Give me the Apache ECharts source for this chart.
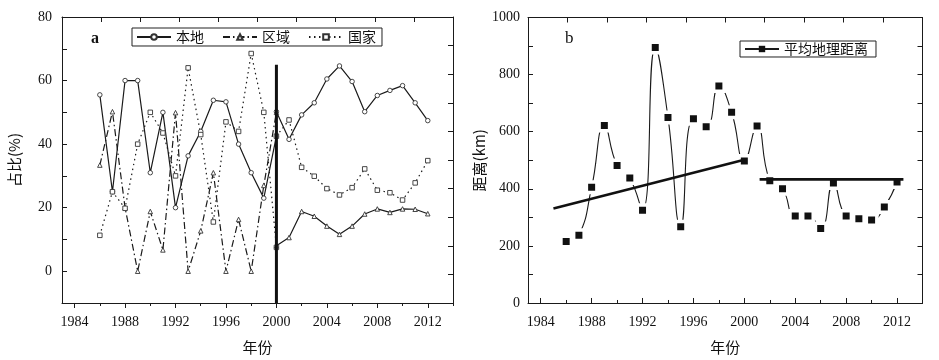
<!DOCTYPE html>
<html><head><meta charset="utf-8">
<script src="https://cdn.jsdelivr.net/npm/echarts@6/dist/echarts.min.js"></script>
<style>html,body{margin:0;padding:0;background:#fff}#c{width:939px;height:360px}</style>
</head><body><div id="c"></div>
<script>
// ---- data (panel a: shares %) ----
const yearsPre  = [1986,1987,1988,1989,1990,1991,1992,1993,1994,1995,1996,1997,1998,1999,2000];
const localPre  = [55.5,25,60,60,31,50,20,36.3,44,53.8,53.3,40,31,23,42.5];
const regionPre = [33.4,50.2,20,0,18.8,6.7,49.9,0,12.7,31,0,16.3,0,27,50];
const nationPre = [11.3,25,19.8,40,50,43.5,30,64,43,15.5,47,44,68.5,50,7.5];
const yearsPost  = [2000,2001,2002,2003,2004,2005,2006,2007,2008,2009,2010,2011,2012];
const localPost  = [50.2,41.5,49.2,53,60.5,64.6,59.7,50.2,55.3,56.9,58.4,53,47.4];
const regionPost = [8,10.6,18.8,17.3,14.2,11.6,14.2,18,19.6,18.5,19.6,19.5,18.1];
const nationPost = [42.5,47.6,32.7,29.9,26,24,26.3,32.2,25.5,24.7,22.4,27.8,34.8];
const dividerYear = 2000;
const dividerRange = [-10, 65];
// ---- data (panel b: average distance km) ----
const distYears = [1986,1987,1988,1989,1990,1991,1992,1993,1994,1995,1996,1997,1998,1999,2000,2001,2002,2003,2004,2005,2006,2007,2008,2009,2010,2011,2012];
const distVals  = [215,237,405,622,482,438,325,895,650,267,645,617,760,668,497,620,428,400,305,305,261,420,305,295,291,336,424];
const trendPreYears  = [1985,2000];
const trendPreVals   = [331,502];
const trendPostYears = [2001.2,2012.5];
const trendPostVals  = [433,433];
// ---- tick labels ----
const xLabelYears = [1984,1988,1992,1996,2000,2004,2008,2012];
const xTickYears  = [1984,1986,1988,1990,1992,1994,1996,1998,2000,2002,2004,2006,2008,2010,2012,2014];
const shareLabels = [0,20,40,60,80];
const distLabels  = [0,200,400,600,800,1000];

const pairs = (xs, ys) => xs.map((x, i) => [x, ys[i]]);
const INK = '#1a1a1a';
const SERIF = 'Liberation Serif';
const CJK = 'Noto Sans CJK SC';

const grids = [
  {left: 62, top: 17, width: 391, height: 291},
  {left: 528, top: 17.5, width: 394.5, height: 291}
];

function bottomAxis(grid, inside) {
  return [{
    gridIndex: grid, type: 'value', position: 'bottom', min: 1983, max: 2014,
    axisLine: {show: true, onZero: false, lineStyle: {color: INK, width: 1}},
    axisTick: {show: true, inside: inside, length: 5, customValues: xLabelYears, lineStyle: {color: INK}},
    axisLabel: {show: true, customValues: xLabelYears, margin: 12, color: '#111', fontFamily: SERIF, fontSize: 14,
      formatter: v => String(v)},
    splitLine: {show: false},
    name: '年份', nameLocation: 'middle', nameGap: 37,
    nameTextStyle: {fontFamily: CJK, fontSize: 15, color: '#111'}
  }, {
    gridIndex: grid, type: 'value', position: 'bottom', min: 1983, max: 2014,
    axisLine: {show: false, onZero: false},
    axisTick: {show: true, inside: inside, length: 3, customValues: xTickYears, lineStyle: {color: INK}},
    axisLabel: {show: false}, splitLine: {show: false}
  }, {
    gridIndex: grid, type: 'value', position: 'top', min: 0, max: 10, interval: 1,
    axisLine: {show: true, onZero: false, lineStyle: {color: INK, width: 1}},
    axisTick: {show: true, inside: true, length: 5, lineStyle: {color: INK}},
    axisLabel: {show: false}, splitLine: {show: false}
  }];
}

const xAxes = [...bottomAxis(0, false), ...bottomAxis(1, true)];
// indexes: 0 left bottom, 1 left minor, 2 left top, 3 right bottom, 4 right minor, 5 right top

const yAxes = [
  {
    gridIndex: 0, type: 'value', position: 'left', min: -10, max: 80, interval: 10,
    axisLine: {show: true, onZero: false, lineStyle: {color: INK}},
    axisTick: {show: true, inside: true, length: 5, lineStyle: {color: INK}},
    axisLabel: {margin: 10, color: '#111', fontFamily: SERIF, fontSize: 14,
      formatter: v => shareLabels.includes(v) ? String(v) : ''},
    splitLine: {show: false},
    name: '占比(%)', nameLocation: 'middle', nameRotate: 90, nameGap: 40,
    nameTextStyle: {fontFamily: CJK, fontSize: 15, color: '#111'}
  },
  {
    gridIndex: 0, type: 'value', position: 'right', min: 0, max: 10, interval: 1,
    axisLine: {show: true, onZero: false, lineStyle: {color: INK}},
    axisTick: {show: true, inside: true, length: 5, lineStyle: {color: INK}},
    axisLabel: {show: false}, splitLine: {show: false}
  },
  {
    gridIndex: 1, type: 'value', position: 'left', min: 0, max: 1000, interval: 100,
    axisLine: {show: true, onZero: false, lineStyle: {color: INK}},
    axisTick: {show: true, inside: true, length: 5, lineStyle: {color: INK}},
    axisLabel: {margin: 8, color: '#111', fontFamily: SERIF, fontSize: 14,
      formatter: v => distLabels.includes(v) ? String(v) : ''},
    splitLine: {show: false},
    name: '距离(km)', nameLocation: 'middle', nameRotate: 90, nameGap: 41,
    nameTextStyle: {fontFamily: CJK, fontSize: 15, color: '#111'}
  },
  {
    gridIndex: 1, type: 'value', position: 'right', min: 0, max: 10, interval: 1,
    axisLine: {show: true, onZero: false, lineStyle: {color: INK}},
    axisTick: {show: true, inside: true, length: 5, lineStyle: {color: INK}},
    axisLabel: {show: false}, splitLine: {show: false}
  }
];

function shareSeries(name, data, symbol, type) {
  return {
    name: name, type: 'line', xAxisIndex: 0, yAxisIndex: 0, data: data,
    symbol: symbol, symbolSize: 4.5, showSymbol: true,
    lineStyle: {color: INK, width: 1.2, type: type},
    itemStyle: {color: '#fff', borderColor: '#333', borderWidth: 0.9},
    emphasis: {disabled: true}, z: 3
  };
}
const DASHDOT = [7, 3, 1.5, 3];
const DOT = [1.5, 3.5];

const series = [
  shareSeries('本地', pairs(yearsPre, localPre), 'circle', 'solid'),
  shareSeries('区域', pairs(yearsPre, regionPre), 'triangle', DASHDOT),
  shareSeries('国家', pairs(yearsPre, nationPre), 'rect', DOT),
  shareSeries('本地', pairs(yearsPost, localPost), 'circle', 'solid'),
  shareSeries('区域', pairs(yearsPost, regionPost), 'triangle', 'solid'),
  shareSeries('国家', pairs(yearsPost, nationPost), 'rect', DOT),
  {
    type: 'line', xAxisIndex: 0, yAxisIndex: 0, symbol: 'none', silent: true,
    data: [[dividerYear, dividerRange[0]], [dividerYear, dividerRange[1]]],
    lineStyle: {color: '#111', width: 3}, z: 6
  },
  {
    name: '平均地理距离', type: 'line', xAxisIndex: 3, yAxisIndex: 2,
    data: pairs(distYears, distVals), smooth: 0.5,
    symbol: 'rect', symbolSize: 10.5, showSymbol: true,
    lineStyle: {color: INK, width: 1.1},
    itemStyle: {color: '#111', borderColor: '#fff', borderWidth: 3.5},
    emphasis: {disabled: true}, z: 3
  },
  {
    type: 'line', xAxisIndex: 3, yAxisIndex: 2, symbol: 'none', silent: true,
    data: pairs(trendPreYears, trendPreVals), lineStyle: {color: '#111', width: 2.6}, z: 5
  },
  {
    type: 'line', xAxisIndex: 3, yAxisIndex: 2, symbol: 'none', silent: true,
    data: pairs(trendPostYears, trendPostVals), lineStyle: {color: '#111', width: 2.6}, z: 5
  }
];

const chart = echarts.init(document.getElementById('c'), null, {renderer: 'canvas'});
chart.setOption({
  animation: false,
  backgroundColor: '#fff',
  grid: grids,
  xAxis: xAxes,
  yAxis: yAxes,
  legend: [
    {
      data: ['本地', '区域', '国家'], left: 132, top: 28, orient: 'horizontal',
      selectedMode: false, itemWidth: 34, itemHeight: 7, itemGap: 18,
      padding: [2, 6, 2, 4], borderColor: '#222', borderWidth: 1,
      textStyle: {fontFamily: CJK, fontSize: 14, color: '#111'}
    },
    {
      data: ['平均地理距离'], left: 740, top: 41, selectedMode: false,
      itemWidth: 34, itemHeight: 8, padding: [1, 8, 1, 4], borderColor: '#222', borderWidth: 1,
      itemStyle: {borderWidth: 0},
      textStyle: {fontFamily: CJK, fontSize: 14, color: '#111'}
    }
  ],
  graphic: [
    {type: 'text', left: 91, top: 31, style: {text: 'a', font: 'bold 16px "Liberation Serif"', fill: '#111'}},
    {type: 'text', left: 565, top: 30, style: {text: 'b', font: '17px "Liberation Serif"', fill: '#111'}}
  ],
  series: series
});
</script></body></html>
